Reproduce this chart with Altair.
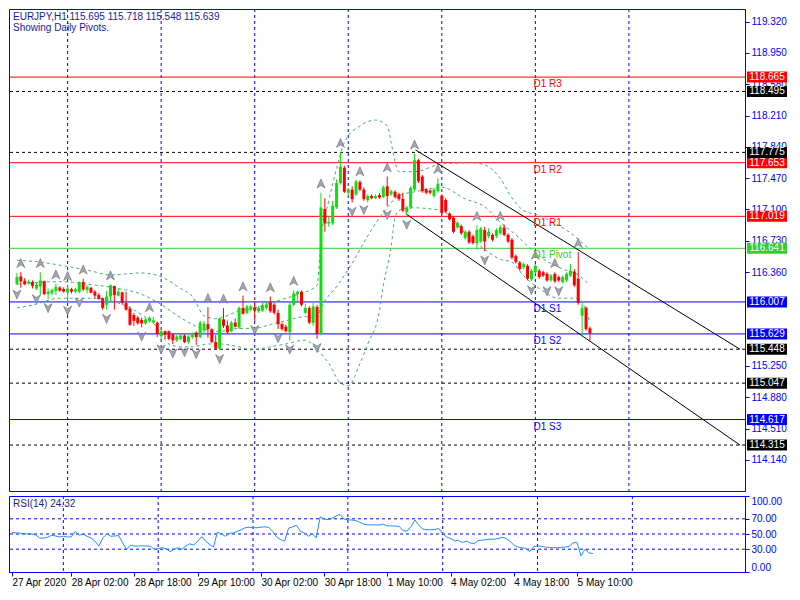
import altair as alt
import pandas as pd

# ---------------- data ----------------
symbol = "EURJPY,H1"
subtitle = "Showing Daily Pivots."

opens = [116.224, 116.308, 116.258, 116.224, 116.243, 116.166, 116.189, 116.252, 116.101, 116.109,
         116.135, 116.178, 116.160, 116.120, 116.158, 116.128, 116.128, 116.243, 116.147, 116.174,
         116.128, 116.089, 116.051, 115.974, 116.071, 116.195, 116.082, 116.120, 115.994, 115.928,
         115.852, 115.821, 115.794, 115.752, 115.783, 115.763, 115.763, 115.602, 115.660, 115.660,
         115.622, 115.553, 115.571, 115.610, 115.533, 115.591, 115.645, 115.591, 115.671, 115.744,
         115.683, 115.533, 115.456, 115.801, 115.729, 115.660, 115.763, 115.706, 115.936, 115.878,
         115.916, 115.944, 115.898, 115.905, 115.936, 116.005, 115.974, 115.878, 115.744, 115.714,
         115.648, 115.974, 116.097, 116.128, 115.878, 115.936, 115.757, 115.947, 115.629, 117.106,
         116.934, 116.934, 117.125, 117.413, 117.593, 117.298, 117.336, 117.279, 117.424, 117.336,
         117.210, 117.260, 117.233, 117.271, 117.248, 117.374, 117.279, 117.309, 117.279, 117.225,
         117.067, 117.125, 117.336, 117.682, 117.490, 117.336, 117.324, 117.260, 117.317, 117.263,
         117.213, 117.052, 117.003, 116.888, 116.903, 116.761, 116.837, 116.784, 116.704, 116.722,
         116.857, 116.784, 116.799, 116.784, 116.819, 116.888, 116.799, 116.742, 116.549, 116.473,
         116.416, 116.434, 116.273, 116.358, 116.377, 116.358, 116.339, 116.262, 116.339, 116.301,
         116.243, 116.262, 116.319, 116.365, 116.281, 115.844, 115.936, 115.695]
highs = [116.347, 116.358, 116.289, 116.270, 116.262, 116.243, 116.358, 116.258, 116.166, 116.166,
         116.224, 116.193, 116.181, 116.204, 116.174, 116.174, 116.250, 116.281, 116.204, 116.186,
         116.147, 116.109, 116.059, 116.135, 116.212, 116.201, 116.166, 116.128, 116.128, 115.955,
         115.878, 115.840, 115.821, 115.821, 115.836, 115.829, 115.775, 115.694, 115.671, 115.671,
         115.637, 115.614, 115.625, 115.625, 115.614, 115.648, 115.660, 115.783, 115.783, 115.944,
         115.694, 115.614, 115.821, 115.936, 115.786, 115.783, 115.813, 115.955, 116.082, 115.974,
         115.974, 116.013, 115.955, 115.994, 116.013, 116.071, 115.994, 115.916, 115.763, 115.737,
         116.013, 116.147, 116.143, 116.143, 115.982, 115.955, 115.994, 115.974, 117.298, 117.233,
         117.018, 117.202, 117.455, 117.778, 117.616, 117.355, 117.374, 117.451, 117.443, 117.363,
         117.279, 117.279, 117.279, 117.294, 117.383, 117.490, 117.336, 117.328, 117.298, 117.298,
         117.144, 117.374, 117.758, 117.701, 117.509, 117.355, 117.340, 117.355, 117.470, 117.279,
         117.236, 117.067, 117.018, 116.960, 116.922, 116.857, 116.857, 116.803, 116.914, 116.895,
         116.895, 116.876, 116.819, 116.876, 116.914, 116.922, 116.819, 116.761, 116.569, 116.492,
         116.473, 116.454, 116.396, 116.454, 116.396, 116.377, 116.358, 116.339, 116.358, 116.319,
         116.319, 116.358, 116.454, 116.396, 116.595, 115.994, 115.955, 115.718]
lows = [116.204, 116.174, 116.204, 116.212, 116.166, 116.147, 116.089, 116.089, 116.043, 116.089,
        116.089, 116.128, 116.117, 116.013, 116.109, 116.109, 116.109, 116.135, 116.109, 116.109,
        116.051, 116.032, 115.916, 115.916, 116.013, 115.916, 116.071, 115.974, 115.905, 115.725,
        115.725, 115.737, 115.706, 115.737, 115.763, 115.752, 115.591, 115.556, 115.571, 115.556,
        115.507, 115.533, 115.556, 115.522, 115.513, 115.571, 115.499, 115.579, 115.622, 115.583,
        115.522, 115.449, 115.441, 115.698, 115.629, 115.648, 115.706, 115.686, 115.859, 115.859,
        115.898, 115.783, 115.878, 115.890, 115.916, 115.878, 115.859, 115.686, 115.668, 115.648,
        115.553, 115.955, 115.994, 115.955, 115.859, 115.744, 115.725, 115.571, 115.610, 116.837,
        116.895, 116.914, 117.106, 117.394, 117.294, 117.260, 117.182, 117.260, 117.317, 117.202,
        117.182, 117.222, 117.222, 117.225, 117.233, 117.144, 117.260, 117.233, 117.202, 117.067,
        117.029, 117.106, 117.317, 117.413, 117.298, 117.279, 117.279, 117.240, 117.298, 117.040,
        117.056, 116.971, 116.819, 116.868, 116.799, 116.742, 116.692, 116.684, 116.627, 116.704,
        116.607, 116.761, 116.722, 116.761, 116.799, 116.784, 116.704, 116.511, 116.462, 116.377,
        116.396, 116.262, 116.255, 116.339, 116.281, 116.301, 116.243, 116.243, 116.232, 116.243,
        116.224, 116.243, 116.301, 116.186, 115.974, 115.591, 115.668, 115.548]
closes = [116.301, 116.250, 116.216, 116.247, 116.197, 116.212, 116.262, 116.101, 116.128, 116.147,
          116.186, 116.140, 116.128, 116.166, 116.128, 116.158, 116.243, 116.155, 116.186, 116.117,
          116.082, 116.043, 115.936, 116.071, 116.204, 116.089, 116.128, 115.994, 115.916, 115.737,
          115.783, 115.755, 115.752, 115.801, 115.821, 115.790, 115.629, 115.660, 115.619, 115.571,
          115.553, 115.599, 115.610, 115.533, 115.599, 115.637, 115.591, 115.763, 115.752, 115.686,
          115.533, 115.456, 115.809, 115.725, 115.648, 115.763, 115.714, 115.936, 115.867, 115.955,
          115.955, 115.905, 115.936, 115.967, 115.974, 115.898, 115.878, 115.744, 115.686, 115.660,
          115.974, 116.109, 116.128, 115.974, 115.936, 115.763, 115.955, 115.629, 117.125, 116.934,
          116.953, 117.144, 117.413, 117.605, 117.309, 117.336, 117.222, 117.432, 117.336, 117.222,
          117.260, 117.233, 117.260, 117.240, 117.363, 117.260, 117.317, 117.248, 117.222, 117.087,
          117.125, 117.355, 117.682, 117.432, 117.317, 117.298, 117.298, 117.336, 117.405, 117.058,
          117.075, 116.983, 116.837, 116.941, 116.819, 116.837, 116.710, 116.704, 116.857, 116.876,
          116.722, 116.837, 116.742, 116.857, 116.888, 116.799, 116.722, 116.531, 116.480, 116.396,
          116.454, 116.281, 116.377, 116.434, 116.301, 116.319, 116.262, 116.319, 116.250, 116.262,
          116.301, 116.339, 116.377, 116.204, 115.994, 115.936, 115.686, 115.639]
rsi = [52.1, 51.3, 51.3, 50.4, 50.0, 50.0, 48.7, 44.8, 44.4, 45.7,
       48.3, 47.4, 46.1, 47.0, 46.1, 46.1, 53.4, 48.3, 50.0, 47.0,
       44.8, 40.6, 34.1, 44.8, 50.0, 47.0, 47.4, 47.9, 38.4, 29.8,
       35.4, 34.1, 34.1, 34.5, 34.1, 34.1, 29.8, 30.7, 32.0, 30.7,
       26.8, 29.8, 32.0, 29.8, 34.1, 37.1, 35.4, 40.6, 46.6, 40.6,
       36.3, 32.8, 52.6, 50.0, 47.0, 50.9, 51.3, 53.4, 55.6, 58.2,
       59.0, 58.2, 58.2, 59.0, 59.4, 58.6, 53.4, 45.7, 42.7, 40.6,
       57.7, 59.4, 61.6, 53.4, 51.3, 47.0, 50.4, 44.8, 72.7, 69.7,
       68.9, 70.6, 73.6, 75.8, 69.7, 68.5, 68.5, 67.6, 65.5, 62.9,
       62.0, 62.0, 62.0, 62.0, 62.9, 60.7, 60.7, 60.3, 59.9, 54.3,
       53.9, 59.9, 68.5, 61.2, 56.4, 55.6, 55.6, 56.0, 57.3, 50.4,
       46.1, 44.0, 41.0, 41.4, 38.8, 40.6, 38.0, 37.6, 41.4, 41.8,
       42.7, 43.1, 43.1, 44.0, 45.7, 44.4, 40.6, 35.4, 32.8, 32.0,
       31.1, 26.8, 33.3, 34.5, 33.7, 32.8, 32.4, 32.0, 32.0, 32.4,
       32.8, 33.7, 38.4, 38.8, 21.2, 29.8, 25.1, 24.32]

# Bollinger bands (read at sample bars)
bb_upper_bar = [0, 4, 11, 19, 24, 32, 37, 42, 45, 48, 51, 57, 61, 65, 69, 73, 77, 78, 80, 82,
                84, 88, 92, 95, 96, 97, 98, 102, 109, 117, 120, 124, 127, 130, 134, 138, 142, 145, 147]
bb_upper_val = [116.500, 116.488, 116.442, 116.373, 116.327, 116.350, 116.304, 116.166, 116.074, 115.844,
                115.809, 115.901, 115.936, 115.993, 116.051, 116.109, 116.201, 116.742, 117.202, 117.582,
                117.893, 118.088, 118.157, 118.088, 117.893, 117.662, 117.547, 117.547, 117.639, 117.651,
                117.628, 117.467, 117.237, 117.087, 117.029, 116.937, 116.822, 116.707, 116.627]
bb_lower_bar = [0, 4, 11, 19, 26, 32, 36, 39, 42, 45, 49, 52, 57, 60, 65, 69, 74, 77, 80, 83,
                85, 88, 90, 93, 94, 96, 97, 98, 101, 109, 115, 120, 124, 127, 130, 134, 139, 144, 147]
bb_lower_val = [115.936, 115.970, 116.051, 116.051, 115.994, 115.855, 115.706, 115.510, 115.476, 115.476,
                115.510, 115.510, 115.476, 115.441, 115.476, 115.510, 115.556, 115.441, 115.280, 115.050,
                115.015, 115.280, 115.510, 115.901, 116.201, 116.661, 117.006, 117.087, 117.121, 117.087,
                116.822, 116.627, 116.511, 116.477, 116.316, 116.166, 116.051, 116.051, 115.763]
bb_mid_bar = [0, 11, 19, 26, 32, 36, 42, 48, 52, 57, 61, 65, 69, 74, 77, 78, 82, 86, 90, 94,
              98, 103, 109, 115, 120, 124, 128, 132, 136, 140, 144, 147]
bb_mid_val = [116.218, 116.247, 116.212, 116.166, 116.097, 116.005, 115.821, 115.683, 115.660, 115.694,
              115.694, 115.740, 115.786, 115.832, 115.821, 115.936, 116.189, 116.465, 116.788, 117.064,
              117.260, 117.317, 117.363, 117.225, 117.133, 116.949, 116.799, 116.627, 116.488, 116.396,
              116.327, 116.201]

# Fractals (bars carrying an up / down arrow)
fractal_up = [1, 6, 10, 13, 17, 24, 34, 49, 53, 58, 65, 71, 78, 83, 88, 95, 102, 108, 118, 124, 133, 138, 144]
fractal_down = [0, 5, 8, 13, 16, 23, 32, 37, 40, 43, 46, 52, 61, 67, 70, 77, 86, 89, 95, 100, 120, 132, 136, 139]

# Daily pivot levels
level_names = ["D1 R3", "D1 R2", "D1 R1", "D1 Pivot", "D1 S1", "D1 S2", "D1 S3"]
level_prices = [118.665, 117.653, 117.019, 116.641, 116.007, 115.629, 114.617]
level_colors = ["#ff0000", "#ff0000", "#ff0000", "#32cd32", "#0000ff", "#0000ff", "#0000ff"]
dashed_levels = [118.495, 117.775, 115.448, 115.047, 114.315]

# Trend channel lines (bar, price end points)
channel_name = ["upper", "upper", "lower", "lower"]
channel_bar = [102.25, 185.5, 99.75, 185.5]
channel_price = [117.804, 115.448, 117.05, 114.315]

# visible price scale labels (115.990 / 115.620 are hidden under level boxes in the reference)
price_ticks = [114.140, 114.510, 114.880, 115.250, 116.360, 116.730,
               117.100, 117.470, 117.840, 118.210, 118.580, 118.950, 119.320]
rsi_ticks = [0, 30, 50, 70, 100]
rsi_levels = [30, 50, 70]
grid_bars = [13, 37, 61, 85, 109, 133, 157]
time_label_bars = [0, 15, 31, 47, 63, 79, 95, 111, 127, 143]
time_labels = ["27 Apr 2020", "28 Apr 02:00", "28 Apr 18:00", "29 Apr 10:00", "30 Apr 02:00",
               "30 Apr 18:00", "1 May 10:00", "4 May 02:00", "4 May 18:00", "5 May 10:00"]

n = len(closes)
assert len(opens) == n and len(highs) == n and len(lows) == n and len(rsi) == n
assert len(bb_upper_bar) == len(bb_upper_val) and len(bb_lower_bar) == len(bb_lower_val)
assert len(bb_mid_bar) == len(bb_mid_val)

# ---------------- layout / style ----------------
W = 736
H_MAIN = 482
H_RSI = 76
FONT = "Liberation Sans"
BLUE = "#0000ff"
TXT = "#1a1a9e"
BULL = "#11dd11"
BEAR = "#ff0000"
X_DOM = [-0.75, 185.5]
Y_DOM = [113.772, 119.470]
LABEL_BAR = 132.5

xs = alt.Scale(domain=X_DOM, nice=False, zero=False)
ys = alt.Scale(domain=Y_DOM, nice=False, zero=False)
rs = alt.Scale(domain=[0, 100], nice=False, zero=False)

bars = list(range(n))
candles = pd.DataFrame({"bar": bars, "open": opens, "high": highs, "low": lows, "close": closes})
candles["dir"] = ["up" if c >= o else "down" for o, c in zip(opens, closes)]
dir_color = alt.Color("dir:N", scale=alt.Scale(domain=["up", "down"], range=[BULL, BEAR]), legend=None)


def X(f="bar:Q"):
    return alt.X(f, scale=xs, axis=None)


def Y(f):
    return alt.Y(f, scale=ys, axis=None)


# ---------------- main panel ----------------
vgrid = alt.Chart(pd.DataFrame({"bar": grid_bars})).mark_rule(
    color=BLUE, strokeDash=[3, 3], strokeWidth=1).encode(x=X())

dash_df = pd.DataFrame({"price": dashed_levels})
dlev = alt.Chart(dash_df).mark_rule(color="black", strokeDash=[3, 3], strokeWidth=1).encode(y=Y("price:Q"))

piv_df = pd.DataFrame({"price": level_prices, "name": level_names, "col": level_colors})
plev = alt.Chart(piv_df).mark_rule(strokeWidth=1).encode(
    y=Y("price:Q"), color=alt.Color("col:N", scale=None))
ptxt = alt.Chart(piv_df).transform_calculate(lx=str(LABEL_BAR)).mark_text(
    align="left", baseline="top", dy=2, fontSize=10, font=FONT).encode(
    x=X("lx:Q"), y=Y("price:Q"), text="name:N", color=alt.Color("col:N", scale=None))

bb_df = pd.concat([
    pd.DataFrame({"bar": bb_upper_bar, "price": bb_upper_val, "band": "upper"}),
    pd.DataFrame({"bar": bb_mid_bar, "price": bb_mid_val, "band": "mid"}),
    pd.DataFrame({"bar": bb_lower_bar, "price": bb_lower_val, "band": "lower"}),
])
bb = alt.Chart(bb_df).mark_line(color="#3cb371", strokeDash=[3, 3], strokeWidth=1,
                                interpolate="monotone").encode(
    x=X(), y=Y("price:Q"), detail="band:N")

ch_df = pd.DataFrame({"bar": channel_bar, "price": channel_price, "line": channel_name})
chan = alt.Chart(ch_df).mark_line(color="black", strokeWidth=1).encode(
    x=X(), y=Y("price:Q"), detail="line:N")

wick = alt.Chart(candles).mark_rule(strokeWidth=1).encode(
    x=X(),
    y=alt.Y("low:Q", scale=ys, axis=alt.Axis(
        orient="right", values=price_ticks, format=".3f", title=None, grid=False,
        labelColor=BLUE, tickColor=BLUE, domainColor=BLUE, labelFont=FONT, labelFontSize=10,
        tickSize=4, labelPadding=2, labelOverlap=False, labelFlush=False)),
    y2="high:Q", color=dir_color)
body = alt.Chart(candles).mark_bar(size=3).encode(
    x=X(), y=Y("open:Q"), y2="close:Q", color=dir_color)

UP_PATH = "M0,-1L0.85,0.9L0,0.35L-0.85,0.9Z"
DOWN_PATH = "M0,1L0.85,-0.9L0,-0.35L-0.85,-0.9Z"
fu_df = pd.DataFrame({"bar": fractal_up, "price": [highs[i] for i in fractal_up]})
fd_df = pd.DataFrame({"bar": fractal_down, "price": [lows[i] for i in fractal_down]})
fup = alt.Chart(fu_df).mark_point(shape=UP_PATH, filled=True, size=90, color="#a4a4b4",
                                  stroke="#6c6c7c", strokeWidth=0.6, opacity=1, yOffset=-9).encode(
    x=X(), y=Y("price:Q"))
fdn = alt.Chart(fd_df).mark_point(shape=DOWN_PATH, filled=True, size=90, color="#a4a4b4",
                                  stroke="#6c6c7c", strokeWidth=0.6, opacity=1, yOffset=9).encode(
    x=X(), y=Y("price:Q"))

box_df = pd.DataFrame({"price": level_prices + dashed_levels,
                       "col": level_colors + ["#000000"] * len(dashed_levels)})
boxes = alt.Chart(box_df).mark_tick(orient="horizontal", size=40, thickness=11, opacity=1).encode(
    x=alt.value(W + 22), y=Y("price:Q"), color=alt.Color("col:N", scale=None))
box_txt = alt.Chart(box_df).mark_text(color="white", fontSize=10, font=FONT, align="center",
                                      baseline="middle").encode(
    x=alt.value(W + 22), y=Y("price:Q"), text=alt.Text("price:Q", format=".3f"))

header = f"{symbol}  {opens[-1]:.3f} {highs[-1]:.3f} {lows[-1]:.3f} {closes[-1]:.3f}"
hdr_df = pd.DataFrame({"t": [header, subtitle], "line": [0, 1]})
hdr = alt.Chart(hdr_df).transform_calculate(
    ty=f"{Y_DOM[1]} - datum.line * 0.13"
).mark_text(align="left", baseline="top", dy=3, fontSize=10, font=FONT, color=TXT).encode(
    x=alt.value(4), y=Y("ty:Q"), text="t:N")

main = alt.layer(vgrid, dlev, plev, bb, chan, wick, body, fup, fdn, ptxt, boxes, box_txt,
                 hdr).resolve_axis(x="independent", y="independent").properties(width=W, height=H_MAIN)

# ---------------- RSI panel ----------------
tl_js = "[" + ",".join(f"'{s}'" for s in time_labels) + "]"
tv_js = "[" + ",".join(str(v) for v in time_label_bars) + "]"
rsi_df = pd.DataFrame({"bar": bars, "rsi": rsi})

rgrid = alt.Chart(pd.DataFrame({"bar": grid_bars})).mark_rule(
    color=BLUE, strokeDash=[3, 3], strokeWidth=1).encode(x=alt.X("bar:Q", scale=xs, axis=None))
rlev = alt.Chart(pd.DataFrame({"v": rsi_levels})).mark_rule(
    color=BLUE, strokeDash=[3, 3], strokeWidth=1).encode(y=alt.Y("v:Q", scale=rs, axis=None))
rline = alt.Chart(rsi_df).mark_line(color="#1e90ff", strokeWidth=1).encode(
    x=alt.X("bar:Q", scale=xs, axis=alt.Axis(
        orient="bottom", values=time_label_bars, labelExpr=f"{tl_js}[indexof({tv_js}, datum.value)]",
        labelAlign="left", labelColor="black", labelFont=FONT, labelFontSize=10, tickColor=BLUE,
        domainColor=BLUE, tickSize=4, labelPadding=1, grid=False, title=None,
        labelOverlap=False, labelFlush=False)),
    y=alt.Y("rsi:Q", scale=rs, axis=alt.Axis(
        orient="right", values=rsi_ticks, format=".2f", title=None, grid=False,
        labelColor=BLUE, tickColor=BLUE, domainColor=BLUE, labelFont=FONT, labelFontSize=10,
        tickSize=4, labelPadding=2, labelOverlap=False, labelFlush=True)))
rtxt = alt.Chart(pd.DataFrame({"t": [f"RSI(14) {rsi[-1]:.2f}"]})).transform_calculate(
    ty="100"
).mark_text(align="left", baseline="top", dy=3, fontSize=10, font=FONT, color=TXT).encode(
    x=alt.value(4), y=alt.Y("ty:Q", scale=rs, axis=None), text="t:N")

rsi_panel = alt.layer(rgrid, rlev, rline, rtxt).resolve_axis(
    x="independent", y="independent").properties(width=W, height=H_RSI)

chart = alt.vconcat(main, rsi_panel, spacing=3).properties(
    padding=0, background="white"
).configure_view(stroke=BLUE, strokeWidth=1)

chart.save("out.html", embed_options={"renderer": "svg", "actions": False})
